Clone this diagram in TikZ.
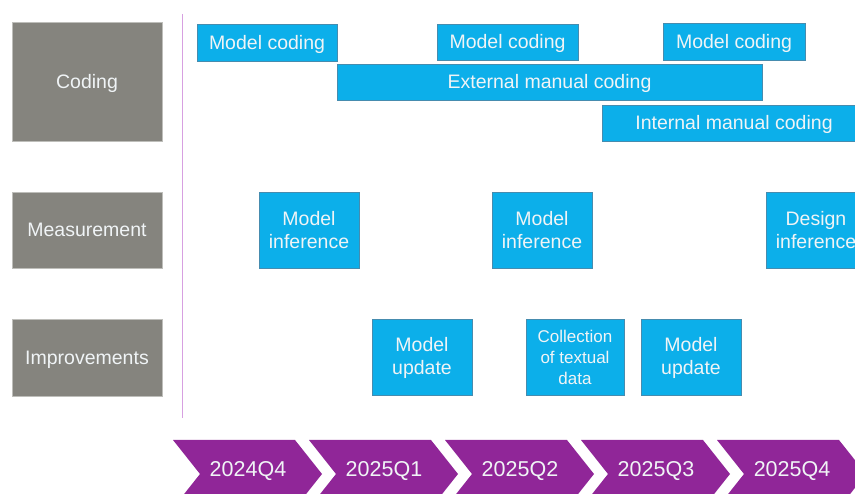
\documentclass[tikz,border=0pt]{standalone}
\usepackage{fontspec}
\setmainfont{Liberation Sans}
\definecolor{lanegray}{RGB}{133,132,126}
\definecolor{lanegrayedge}{RGB}{190,190,186}
\definecolor{taskblue}{RGB}{12,175,234}
\definecolor{taskedge}{RGB}{70,140,175}
\definecolor{quarter}{RGB}{144,38,152}
\definecolor{divider}{RGB}{215,160,225}
\definecolor{labeltext}{RGB}{240,244,246}
\tikzset{
  lane/.style={rectangle, fill=lanegray, draw=lanegrayedge, line width=0.6pt,
    inner sep=0pt, text=labeltext, font=\fontsize{19.5}{23}\selectfont,
    text height=14pt, text depth=0pt},
  task/.style={rectangle, fill=taskblue, draw=taskedge, line width=0.6pt,
    inner sep=0pt, text=labeltext, align=center, font=\fontsize{19.5}{23}\selectfont},
  oneline/.style={text height=14pt, text depth=0pt},
  smalltask/.style={task, font=\fontsize{17}{21}\selectfont},
  qlabel/.style={text=labeltext, inner sep=0pt, anchor=base, font=\fontsize{21.5}{24}\selectfont},
}
\begin{document}
\begin{tikzpicture}[x=1pt,y=-1pt]
\useasboundingbox (0,0) rectangle (855,494);
\clip (0,0) rectangle (855,494);

% swim-lane headers
\node[lane, minimum width=150pt, minimum height=119pt] (coding) at (87,81.5) {Coding};
\node[lane, minimum width=150pt, minimum height=76pt] (meas) at (87,230) {Measurement};
\node[lane, minimum width=150pt, minimum height=77pt] (impr) at (87,357.5) {Improvements};

% divider between headers and timeline
\coordinate (divtop) at (182,14);
\coordinate (divbot) at (182,418);
\draw[divider, line width=1pt] (divtop) -- (divbot);

% coding lane
\node[task, oneline, minimum width=140pt, minimum height=37pt] (mc1) at (267,42.5) {Model coding};
\node[task, oneline, minimum width=141pt, minimum height=36pt] (mc2) at (507.5,42) {Model coding};
\node[task, oneline, minimum width=142pt, minimum height=37pt] (mc3) at (734,41.5) {Model coding};
\node[task, oneline, minimum width=425pt, minimum height=36pt] (ext) at (549.5,82) {External manual coding};
\node[task, oneline, minimum width=264pt, minimum height=36pt] (int) at (734,123) {Internal manual coding};

% measurement lane
\node[task, minimum width=100pt, minimum height=76pt] (mi1) at (309,230.5) {Model\\inference};
\node[task, minimum width=100pt, minimum height=76pt] (mi2) at (542,230.5) {Model\\inference};
\node[task, minimum width=100pt, minimum height=76pt] (di) at (816,230.5) {Design\\inference};

% improvements lane
\node[task, minimum width=100pt, minimum height=76pt] (mu1) at (422,357.5) {Model\\update};
\node[smalltask, minimum width=98pt, minimum height=76pt] (coll) at (575,357.5) {Collection\\of textual\\data};
\node[task, minimum width=100pt, minimum height=76pt] (mu2) at (691,357.5) {Model\\update};

% quarter chevrons
\foreach \k/\lbl in {0/2024Q4,1/2025Q1,2/2025Q2,3/2025Q3,4/2025Q4}{
  \pgfmathsetmacro{\xo}{173+136*\k}
  \fill[quarter] (\xo,440) -- ++(122,0) -- ++(27,34) -- ++(-27,34) -- ++(-122,0) -- ++(27,-34) -- cycle;
  \node[qlabel] (q\k) at (\xo+75,477) {\lbl};
}
\end{tikzpicture}
\end{document}
